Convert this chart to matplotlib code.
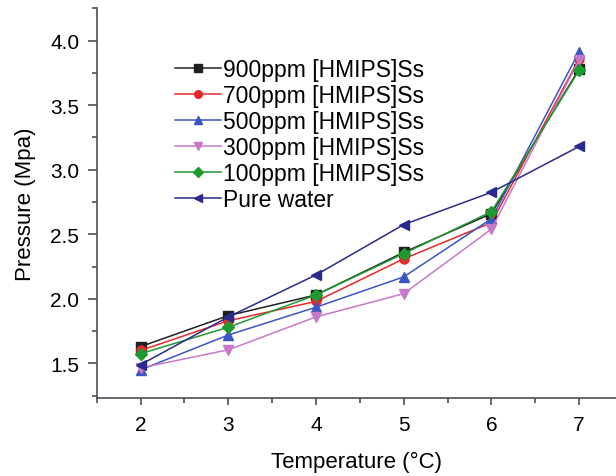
import matplotlib

matplotlib.use("Agg")
import matplotlib.pyplot as plt
from matplotlib.ticker import MultipleLocator

plt.rcParams["font.family"] = ["Liberation Sans", "DejaVu Sans"]

# temperature (°C) and pressure (MPa)
TEMPERATURE = [2, 3, 4, 5, 6, 7]
P_900 = [1.63, 1.87, 2.03, 2.36, 2.66, 3.78]
P_700 = [1.60, 1.83, 1.98, 2.31, 2.59, 3.86]
P_500 = [1.45, 1.72, 1.935, 2.17, 2.62, 3.915]
P_300 = [1.465, 1.605, 1.86, 2.04, 2.54, 3.85]
P_100 = [1.575, 1.78, 2.03, 2.35, 2.675, 3.77]
P_WATER = [1.49, 1.86, 2.185, 2.575, 2.825, 3.18]

LABELS = [
    "900ppm [HMIPS]Ss",
    "700ppm [HMIPS]Ss",
    "500ppm [HMIPS]Ss",
    "300ppm [HMIPS]Ss",
    "100ppm [HMIPS]Ss",
    "Pure water",
]
SERIES = [P_900, P_700, P_500, P_300, P_100, P_WATER]
COLORS = ["#202020", "#e82828", "#3a55c4", "#c878c8", "#1f9a30", "#2a2a8c"]
MARKERS = ["s", "o", "^", "v", "D", "<"]
MSIZES = [6.5, 6.5, 7.5, 7.5, 6.0, 7.5]

fig = plt.figure(figsize=(6.16, 4.77), dpi=100)
ax = fig.add_axes([0.157, 0.163, 0.843, 0.8175])

for y, lab, c, m, ms in zip(SERIES, LABELS, COLORS, MARKERS, MSIZES):
    ax.plot(TEMPERATURE, y, "-", color=c, marker=m, markersize=ms, lw=1.1, label=lab)

ax.set_xlim(1.5, 7.42)
ax.set_ylim(1.23, 4.25)
ax.xaxis.set_major_locator(MultipleLocator(1))
ax.xaxis.set_minor_locator(MultipleLocator(0.5))
ax.yaxis.set_major_locator(MultipleLocator(0.5))
ax.yaxis.set_minor_locator(MultipleLocator(0.25))
ax.yaxis.set_major_formatter(lambda v, _: f"{v:.1f}")

spine_c = "#4a5058"
for side in ("top", "right"):
    ax.spines[side].set_visible(False)
for side in ("left", "bottom"):
    ax.spines[side].set_color(spine_c)
    ax.spines[side].set_linewidth(1.2)

ax.tick_params(axis="x", which="major", length=5, width=1.2, pad=7, labelsize=15, color=spine_c)
ax.tick_params(axis="x", which="minor", length=3.5, width=1.2, color=spine_c)
ax.tick_params(axis="y", which="major", length=6.5, width=1.2, pad=6, labelsize=15, color=spine_c)
ax.tick_params(axis="y", which="minor", length=3.8, width=1.2, color=spine_c)

ax.set_xlabel("Temperature (°C)", fontsize=16, labelpad=12)
ax.set_ylabel("Pressure (Mpa)", fontsize=16, labelpad=10)

ax.legend(
    loc="upper left",
    bbox_to_anchor=(175 / 616, 1 - 59 / 477),
    bbox_transform=fig.transFigure,
    frameon=False,
    fontsize=16.5,
    handlelength=2.0,
    handletextpad=0.08,
    labelspacing=0.13,
    borderpad=0,
    borderaxespad=0,
    markerscale=0.85,
)

fig.savefig("out.png", dpi=100)
